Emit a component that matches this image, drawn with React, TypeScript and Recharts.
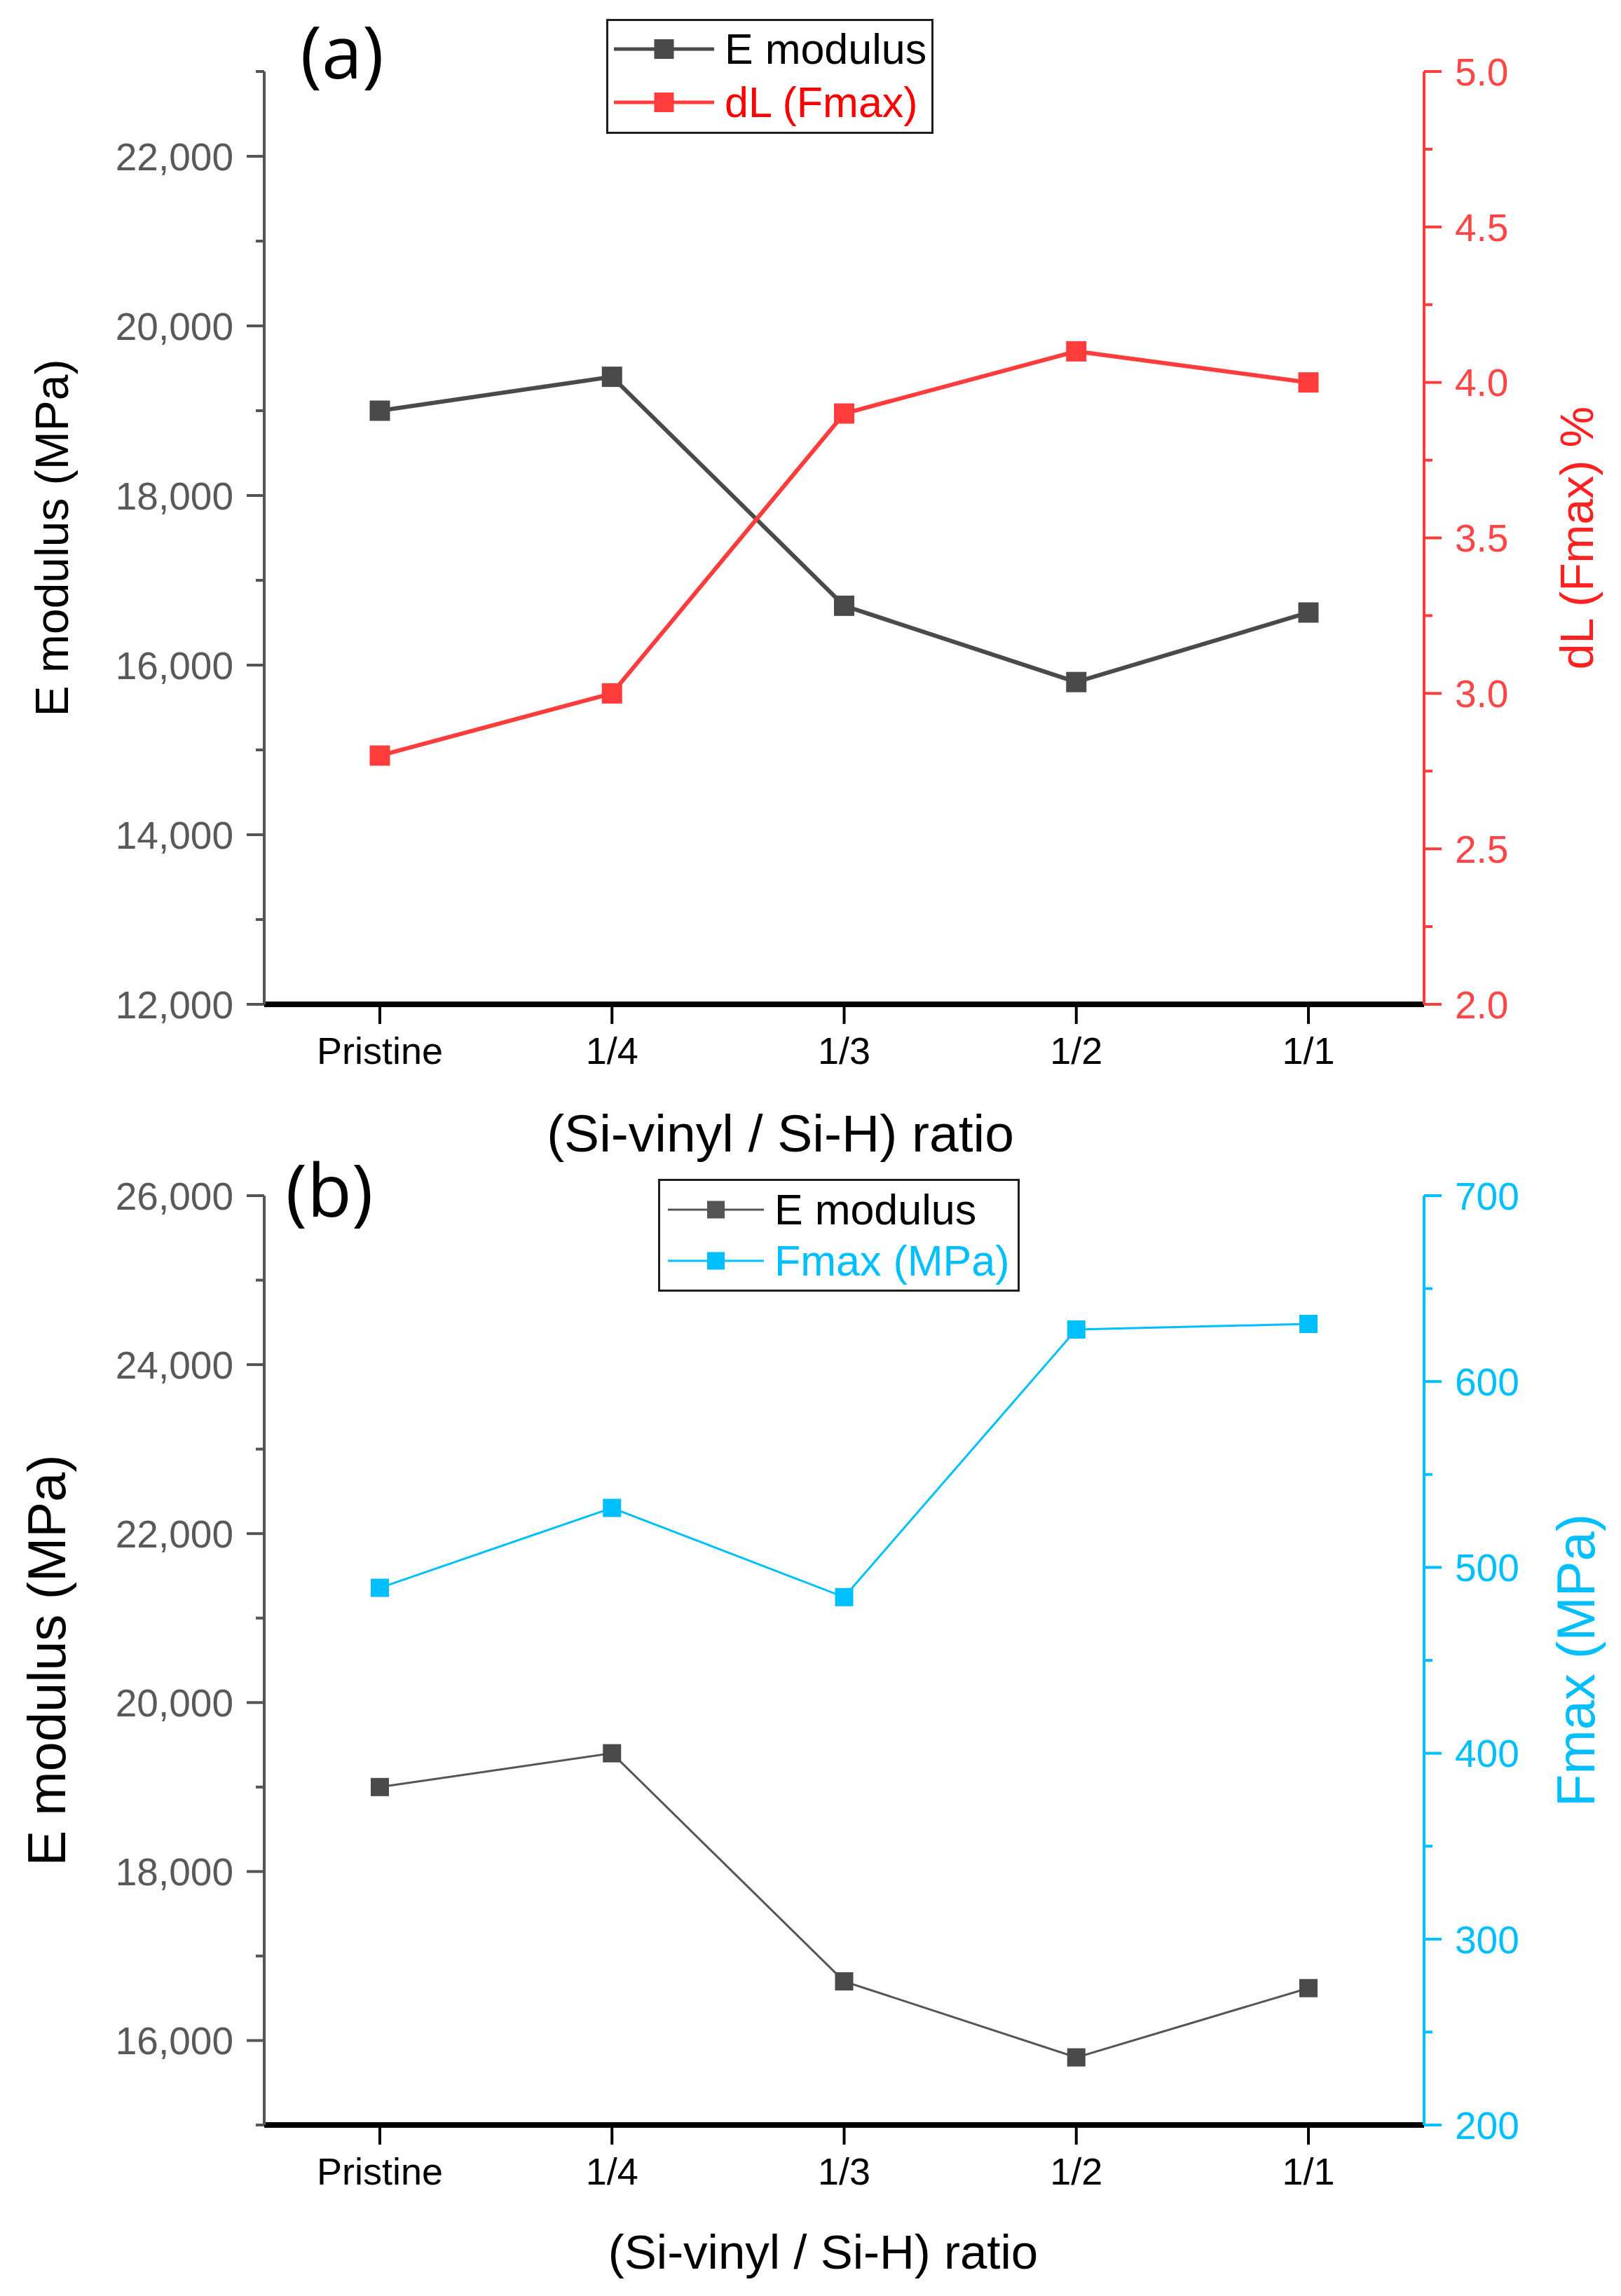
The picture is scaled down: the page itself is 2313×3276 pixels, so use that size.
import React from "react";
import { LineChart, Line, XAxis, YAxis, Legend } from "recharts";

const FONT = '"Liberation Sans", Arial, sans-serif';
const PANEL_FONT = '"Open Sans", "Noto Sans", sans-serif';

// data
const categories = ["Pristine", "1/4", "1/3", "1/2", "1/1"];
const eModulus = [19000, 19400, 16700, 15800, 16620];
const dlFmax = [2.8, 3.0, 3.9, 4.1, 4.0];
const fmax = [489, 532, 484, 628, 631];

// axis ticks
const modulusMajorA = [12000, 14000, 16000, 18000, 20000, 22000];
const modulusMinorA = [13000, 15000, 17000, 19000, 21000, 23000];
const dlMajor = [2.0, 2.5, 3.0, 3.5, 4.0, 4.5, 5.0];
const dlMinor = [2.25, 2.75, 3.25, 3.75, 4.25, 4.75];
const modulusMajorB = [16000, 18000, 20000, 22000, 24000, 26000];
const modulusMinorB = [15000, 17000, 19000, 21000, 23000, 25000];
const fmaxMajor = [200, 300, 400, 500, 600, 700];
const fmaxMinor = [250, 350, 450, 550, 650];

const GRAY = "#4a4a4a";
const RED = "#ff3c3c";
const CYAN = "#00bfff";

const rows = categories.map((ratio, i) => ({
  ratio,
  eModulus: eModulus[i],
  dlFmax: dlFmax[i],
  fmax: fmax[i],
}));

const fmtThousands = (v: number) => v.toLocaleString("en-US");
const fmtOne = (v: number) => v.toFixed(1);
const fmtInt = (v: number) => String(Math.round(v));

function AxisTick(props: any) {
  const { x, y, payload, side, color, textColor, majors, format } = props;
  const v = payload.value;
  const major = majors.some((m: number) => Math.abs(m - v) < 1e-9);
  const dir = side === "left" ? -1 : 1;
  return (
    <g>
      <line x1={x} y1={y} x2={x + dir * (major ? 25 : 12)} y2={y} stroke={color} strokeWidth={4} />
      {major && (
        <text
          x={x + dir * 44}
          y={y}
          dy="0.36em"
          textAnchor={side === "left" ? "end" : "start"}
          fill={textColor}
          fontSize={55}
          fontFamily={FONT}
        >
          {format(v)}
        </text>
      )}
    </g>
  );
}

function VerticalTitle(props: any) {
  const { viewBox, text, dx, side, color, fontSize } = props;
  if (!viewBox) return null;
  const axisX = side === "left" ? viewBox.x + viewBox.width : viewBox.x;
  const cx = axisX + dx;
  const cy = viewBox.y + viewBox.height / 2;
  return (
    <text
      x={cx}
      y={cy}
      transform={`rotate(-90 ${cx} ${cy})`}
      textAnchor="middle"
      dominantBaseline="central"
      fill={color}
      fontSize={fontSize}
      fontFamily={FONT}
    >
      {text}
    </text>
  );
}

function BottomTitle(props: any) {
  const { viewBox, text, dx, dy, fontSize } = props;
  if (!viewBox) return null;
  return (
    <text
      x={viewBox.x + viewBox.width / 2 + dx}
      y={viewBox.y + dy}
      textAnchor="middle"
      fill="#000"
      fontSize={fontSize}
      fontFamily={FONT}
    >
      {text}
    </text>
  );
}

const squareDot = (size: number, color: string) => (props: any) => {
  const { cx, cy, index } = props;
  return (
    <rect key={`dot-${index}`} x={cx - size / 2} y={cy - size / 2} width={size} height={size} fill={color} />
  );
};

function BoxLegend(props: any) {
  const { payload, width, height, rowY, symbolX, symbolW, textX, lineWidth, markerSize, textColors } = props;
  return (
    <div
      style={{
        position: "relative",
        width,
        height,
        border: "3px solid #1e1e1e",
        boxSizing: "border-box",
        background: "#fff",
      }}
    >
      {(payload || []).map((entry: any, i: number) => (
        <div key={entry.value} style={{ position: "absolute", left: 0, top: rowY[i] - 33, height: 60, width: "100%" }}>
          <svg style={{ position: "absolute", left: symbolX, top: 0 }} width={symbolW} height={60}>
            <line x1={0} y1={30} x2={symbolW} y2={30} stroke={entry.color} strokeWidth={lineWidth} />
            <rect
              x={symbolW / 2 - markerSize / 2}
              y={30 - markerSize / 2}
              width={markerSize}
              height={markerSize}
              fill={entry.color}
            />
          </svg>
          <span
            style={{
              position: "absolute",
              left: textX,
              top: 0,
              lineHeight: "60px",
              fontSize: 61,
              fontFamily: FONT,
              color: textColors[entry.value],
              whiteSpace: "nowrap",
            }}
          >
            {entry.value}
          </span>
        </div>
      ))}
    </div>
  );
}

function PanelA() {
  return (
    <LineChart width={2313} height={1660} data={rows} margin={{ top: 102, right: 31, bottom: 77, left: 77 }}>
      <XAxis
        dataKey="ratio"
        height={150}
        padding={{ left: 165, right: 165 }}
        interval={0}
        axisLine={{ stroke: "#000", strokeWidth: 8 }}
        tickLine={{ stroke: "#000", strokeWidth: 4 }}
        tickSize={28}
        tickMargin={19}
        tick={{ fill: "#000", fontSize: 54, fontFamily: FONT }}
        label={<BottomTitle text="(Si-vinyl / Si-H) ratio" dx={-91} dy={210} fontSize={75} />}
      />
      <YAxis
        yAxisId="left"
        orientation="left"
        width={300}
        domain={[12000, 23000]}
        ticks={[...modulusMajorA, ...modulusMinorA]}
        interval={0}
        tickSize={0}
        tickMargin={0}
        tickLine={false}
        axisLine={{ stroke: "#555", strokeWidth: 4 }}
        tick={<AxisTick side="left" color="#555" textColor="#595959" majors={modulusMajorA} format={fmtThousands} />}
        label={<VerticalTitle text="E modulus (MPa)" side="left" dx={-303} color="#000" fontSize={66} />}
      />
      <YAxis
        yAxisId="right"
        orientation="right"
        width={250}
        domain={[2, 5]}
        ticks={[...dlMajor, ...dlMinor]}
        interval={0}
        tickSize={0}
        tickMargin={0}
        tickLine={false}
        axisLine={{ stroke: RED, strokeWidth: 4 }}
        tick={<AxisTick side="right" color={RED} textColor="#ff4545" majors={dlMajor} format={fmtOne} />}
        label={<VerticalTitle text="dL (Fmax) %" side="right" dx={218} color="#ff2020" fontSize={66} />}
      />
      <Legend
        layout="vertical"
        align="center"
        verticalAlign="middle"
        wrapperStyle={{ left: 865, top: 27, width: 467, height: 164 }}
        content={(p: any) => (
          <BoxLegend
            payload={p.payload}
            width={467}
            height={164}
            rowY={[43, 119]}
            symbolX={8}
            symbolW={143}
            textX={166}
            lineWidth={5}
            markerSize={28}
            textColors={{ "E modulus": "#000", "dL (Fmax)": "#ff0000" }}
          />
        )}
      />
      <Line
        yAxisId="left"
        dataKey="eModulus"
        name="E modulus"
        type="linear"
        stroke={GRAY}
        strokeWidth={6}
        dot={squareDot(29, GRAY)}
        activeDot={false}
        isAnimationActive={false}
      />
      <Line
        yAxisId="right"
        dataKey="dlFmax"
        name="dL (Fmax)"
        type="linear"
        stroke={RED}
        strokeWidth={6}
        dot={squareDot(29, RED)}
        activeDot={false}
        isAnimationActive={false}
      />
    </LineChart>
  );
}

function PanelB() {
  return (
    <LineChart width={2313} height={1616} data={rows} margin={{ top: 46, right: 31, bottom: 94, left: 77 }}>
      <XAxis
        dataKey="ratio"
        height={150}
        padding={{ left: 165, right: 165 }}
        interval={0}
        axisLine={{ stroke: "#000", strokeWidth: 8 }}
        tickLine={{ stroke: "#000", strokeWidth: 4 }}
        tickSize={28}
        tickMargin={19}
        tick={{ fill: "#000", fontSize: 54, fontFamily: FONT }}
        label={<BottomTitle text="(Si-vinyl / Si-H) ratio" dx={-30} dy={205} fontSize={69} />}
      />
      <YAxis
        yAxisId="left"
        orientation="left"
        width={300}
        domain={[15000, 26000]}
        ticks={[...modulusMajorB, ...modulusMinorB]}
        interval={0}
        tickSize={0}
        tickMargin={0}
        tickLine={false}
        axisLine={{ stroke: "#555", strokeWidth: 4 }}
        tick={<AxisTick side="left" color="#555" textColor="#595959" majors={modulusMajorB} format={fmtThousands} />}
        label={<VerticalTitle text="E modulus (MPa)" side="left" dx={-311} color="#000" fontSize={76} />}
      />
      <YAxis
        yAxisId="right"
        orientation="right"
        width={250}
        domain={[200, 700]}
        ticks={[...fmaxMajor, ...fmaxMinor]}
        interval={0}
        tickSize={0}
        tickMargin={0}
        tickLine={false}
        axisLine={{ stroke: CYAN, strokeWidth: 4 }}
        tick={<AxisTick side="right" color={CYAN} textColor={CYAN} majors={fmaxMajor} format={fmtInt} />}
        label={<VerticalTitle text="Fmax (MPa)" side="right" dx={216} color={CYAN} fontSize={76} />}
      />
      <Legend
        layout="vertical"
        align="center"
        verticalAlign="middle"
        wrapperStyle={{ left: 939, top: 22, width: 516, height: 161 }}
        content={(p: any) => (
          <BoxLegend
            payload={p.payload}
            width={516}
            height={161}
            rowY={[44, 117]}
            symbolX={11}
            symbolW={137}
            textX={163}
            lineWidth={3}
            markerSize={25}
            textColors={{ "E modulus": "#000", "Fmax (MPa)": CYAN }}
          />
        )}
      />
      <Line
        yAxisId="left"
        dataKey="eModulus"
        name="E modulus"
        type="linear"
        stroke="#555"
        strokeWidth={3}
        dot={squareDot(26, GRAY)}
        activeDot={false}
        isAnimationActive={false}
      />
      <Line
        yAxisId="right"
        dataKey="fmax"
        name="Fmax (MPa)"
        type="linear"
        stroke={CYAN}
        strokeWidth={3}
        dot={squareDot(26, CYAN)}
        activeDot={false}
        isAnimationActive={false}
      />
    </LineChart>
  );
}

export default function App() {
  return (
    <div style={{ position: "absolute", left: 0, top: 0, width: 2313, height: 3276, background: "#fff" }}>
      <div style={{ position: "absolute", left: 0, top: 0 }}>
        <PanelA />
      </div>
      <div style={{ position: "absolute", left: 0, top: 1660 }}>
        <PanelB />
      </div>
      <svg
        style={{ position: "absolute", left: 0, top: 0, pointerEvents: "none" }}
        width={2313}
        height={3276}
      >
        <text x={488} y={112} textAnchor="middle" fontSize={104} fontFamily={PANEL_FONT} fill="#000">
          (a)
        </text>
        <text x={470} y={1736} textAnchor="middle" fontSize={104} fontFamily={PANEL_FONT} fill="#000">
          (b)
        </text>
      </svg>
    </div>
  );
}
